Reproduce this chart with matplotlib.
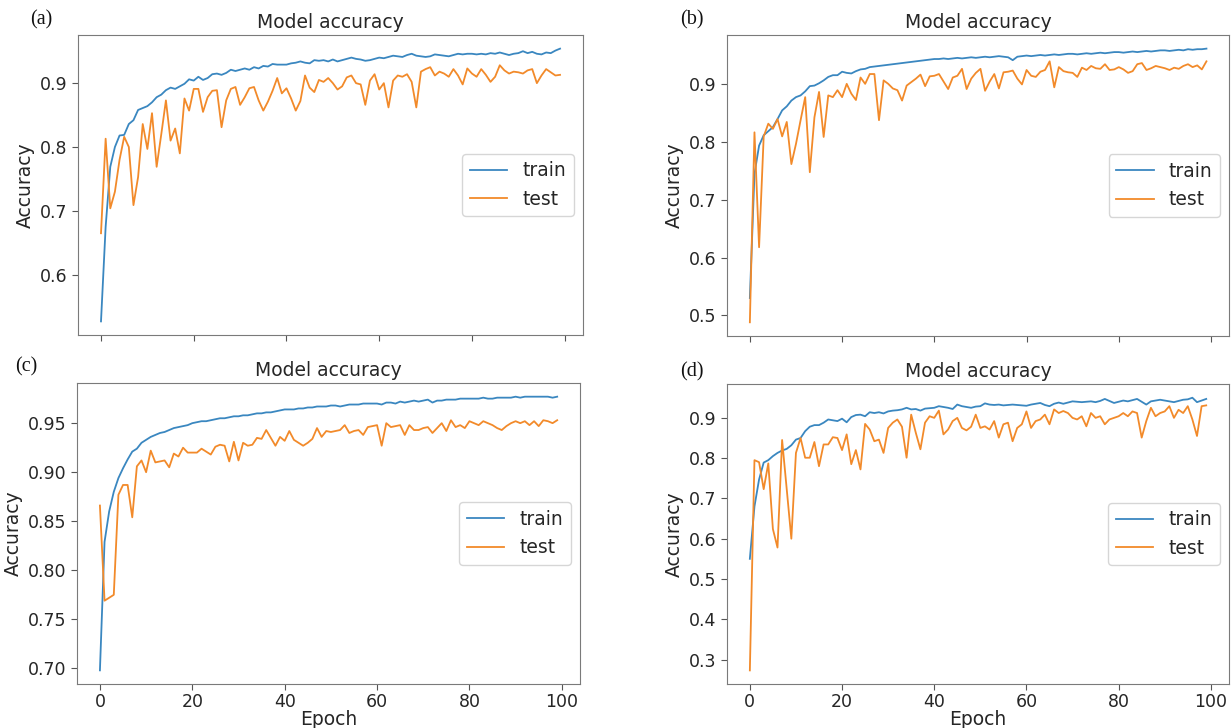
import matplotlib
matplotlib.use('Agg')
import matplotlib.pyplot as plt
import numpy as np

epochs = np.arange(100)

train_a = [0.527, 0.675, 0.769, 0.800, 0.818, 0.819, 0.836, 0.842, 0.858, 0.861,
           0.864, 0.870, 0.878, 0.882, 0.889, 0.893, 0.891, 0.895, 0.899, 0.906,
           0.904, 0.910, 0.905, 0.908, 0.914, 0.915, 0.913, 0.916, 0.921, 0.919,
           0.921, 0.923, 0.921, 0.925, 0.923, 0.927, 0.926, 0.930, 0.929, 0.929,
           0.929, 0.931, 0.932, 0.934, 0.932, 0.931, 0.936, 0.935, 0.936, 0.934,
           0.937, 0.934, 0.936, 0.938, 0.940, 0.938, 0.937, 0.935, 0.936, 0.938,
           0.940, 0.939, 0.941, 0.943, 0.942, 0.941, 0.944, 0.946, 0.943, 0.942,
           0.941, 0.942, 0.945, 0.944, 0.943, 0.942, 0.944, 0.946, 0.945, 0.946,
           0.946, 0.945, 0.946, 0.945, 0.947, 0.946, 0.948, 0.946, 0.944, 0.946,
           0.947, 0.950, 0.947, 0.949, 0.946, 0.945, 0.948, 0.947, 0.951, 0.954]
test_a = [0.665, 0.813, 0.704, 0.730, 0.780, 0.816, 0.800, 0.709, 0.753, 0.836,
          0.797, 0.853, 0.769, 0.820, 0.873, 0.810, 0.829, 0.790, 0.876, 0.857,
          0.891, 0.891, 0.855, 0.878, 0.888, 0.889, 0.831, 0.873, 0.891, 0.894,
          0.866, 0.878, 0.892, 0.894, 0.873, 0.857, 0.871, 0.888, 0.908, 0.884,
          0.892, 0.876, 0.857, 0.872, 0.912, 0.893, 0.886, 0.905, 0.902, 0.908,
          0.900, 0.890, 0.895, 0.909, 0.912, 0.900, 0.898, 0.866, 0.904, 0.914,
          0.890, 0.900, 0.862, 0.904, 0.912, 0.910, 0.914, 0.902, 0.862, 0.918,
          0.922, 0.925, 0.912, 0.918, 0.915, 0.910, 0.922, 0.912, 0.898, 0.923,
          0.915, 0.910, 0.922, 0.913, 0.902, 0.910, 0.928, 0.920, 0.915, 0.918,
          0.917, 0.915, 0.920, 0.922, 0.900, 0.912, 0.922, 0.917, 0.912, 0.913]

train_b = [0.530, 0.745, 0.794, 0.812, 0.819, 0.826, 0.840, 0.855, 0.862, 0.872,
           0.878, 0.881, 0.888, 0.897, 0.898, 0.902, 0.907, 0.913, 0.916, 0.916,
           0.922, 0.920, 0.919, 0.923, 0.926, 0.927, 0.930, 0.931, 0.932, 0.933,
           0.934, 0.935, 0.936, 0.937, 0.938, 0.939, 0.940, 0.941, 0.942, 0.943,
           0.944, 0.944, 0.945, 0.944, 0.945, 0.946, 0.945, 0.946, 0.947, 0.946,
           0.947, 0.948, 0.947, 0.948, 0.949, 0.948, 0.947, 0.942, 0.948, 0.949,
           0.950, 0.949, 0.950, 0.951, 0.950, 0.951, 0.952, 0.951, 0.952, 0.953,
           0.953, 0.952, 0.953, 0.954, 0.953, 0.954, 0.955, 0.954, 0.955, 0.956,
           0.956, 0.955, 0.956, 0.957, 0.956, 0.957, 0.958, 0.957, 0.958, 0.959,
           0.959, 0.958, 0.959, 0.960, 0.959, 0.961, 0.960, 0.961, 0.961, 0.962]
test_b = [0.488, 0.817, 0.618, 0.810, 0.832, 0.823, 0.840, 0.810, 0.835, 0.762,
          0.797, 0.838, 0.878, 0.748, 0.843, 0.887, 0.809, 0.881, 0.878, 0.890,
          0.878, 0.901, 0.884, 0.873, 0.912, 0.901, 0.918, 0.918, 0.838, 0.907,
          0.901, 0.893, 0.890, 0.872, 0.898, 0.904, 0.910, 0.917, 0.897, 0.914,
          0.915, 0.918, 0.905, 0.892, 0.912, 0.915, 0.927, 0.892, 0.910, 0.920,
          0.927, 0.889, 0.905, 0.918, 0.893, 0.921, 0.922, 0.924, 0.910, 0.900,
          0.925, 0.915, 0.913, 0.922, 0.925, 0.940, 0.895, 0.930, 0.923, 0.921,
          0.920, 0.913, 0.929, 0.925, 0.932, 0.928, 0.927, 0.935, 0.925, 0.926,
          0.930, 0.926, 0.920, 0.923, 0.935, 0.937, 0.925, 0.928, 0.932, 0.930,
          0.928, 0.925, 0.929, 0.927, 0.932, 0.935, 0.930, 0.933, 0.926, 0.940]

train_c = [0.698, 0.829, 0.860, 0.880, 0.894, 0.904, 0.913, 0.921, 0.924, 0.930,
           0.933, 0.936, 0.938, 0.940, 0.941, 0.943, 0.945, 0.946, 0.947, 0.948,
           0.950, 0.951, 0.952, 0.952, 0.953, 0.954, 0.955, 0.955, 0.956, 0.957,
           0.957, 0.958, 0.958, 0.959, 0.960, 0.960, 0.961, 0.961, 0.962, 0.963,
           0.964, 0.964, 0.964, 0.965, 0.965, 0.966, 0.966, 0.967, 0.967, 0.967,
           0.968, 0.968, 0.967, 0.968, 0.969, 0.969, 0.969, 0.970, 0.970, 0.970,
           0.970, 0.969, 0.971, 0.971, 0.970, 0.972, 0.971, 0.972, 0.973, 0.972,
           0.973, 0.974, 0.971, 0.973, 0.973, 0.974, 0.974, 0.974, 0.975, 0.975,
           0.975, 0.975, 0.975, 0.976, 0.975, 0.975, 0.976, 0.976, 0.976, 0.976,
           0.977, 0.976, 0.977, 0.977, 0.977, 0.977, 0.977, 0.977, 0.976, 0.977]
test_c = [0.866, 0.769, 0.772, 0.775, 0.877, 0.887, 0.887, 0.854, 0.906, 0.912,
          0.900, 0.922, 0.910, 0.911, 0.912, 0.905, 0.919, 0.916, 0.925, 0.920,
          0.920, 0.920, 0.924, 0.921, 0.918, 0.926, 0.928, 0.927, 0.911, 0.931,
          0.912, 0.930, 0.927, 0.928, 0.935, 0.934, 0.943, 0.935, 0.927, 0.936,
          0.932, 0.942, 0.933, 0.930, 0.927, 0.930, 0.934, 0.945, 0.936, 0.942,
          0.941, 0.942, 0.943, 0.948, 0.940, 0.942, 0.943, 0.938, 0.946, 0.947,
          0.948, 0.927, 0.950, 0.946, 0.947, 0.948, 0.938, 0.948, 0.943, 0.943,
          0.945, 0.946, 0.940, 0.945, 0.950, 0.942, 0.953, 0.946, 0.948, 0.945,
          0.952, 0.950, 0.948, 0.952, 0.950, 0.948, 0.945, 0.943, 0.947, 0.950,
          0.952, 0.950, 0.952, 0.948, 0.952, 0.947, 0.953, 0.952, 0.950, 0.953]

train_d = [0.550, 0.680, 0.747, 0.789, 0.795, 0.805, 0.813, 0.819, 0.823, 0.832,
           0.846, 0.850, 0.867, 0.878, 0.882, 0.882, 0.888, 0.896, 0.894, 0.892,
           0.898, 0.889, 0.902, 0.907, 0.908, 0.904, 0.914, 0.912, 0.914, 0.911,
           0.916, 0.918, 0.919, 0.921, 0.925, 0.921, 0.922, 0.918, 0.923, 0.924,
           0.925, 0.929, 0.927, 0.925, 0.922, 0.933, 0.929, 0.927, 0.925, 0.928,
           0.929, 0.936, 0.933, 0.932, 0.933, 0.931, 0.932, 0.933, 0.932, 0.931,
           0.930, 0.933, 0.935, 0.937, 0.932, 0.929, 0.935, 0.938, 0.935, 0.938,
           0.941, 0.940, 0.939, 0.940, 0.941, 0.939, 0.942, 0.947, 0.942, 0.937,
           0.940, 0.943, 0.941, 0.944, 0.947, 0.940, 0.933, 0.941, 0.943, 0.945,
           0.943, 0.941, 0.939, 0.942, 0.945, 0.946, 0.950, 0.939, 0.943, 0.947]
test_d = [0.273, 0.795, 0.790, 0.723, 0.787, 0.624, 0.578, 0.845, 0.723, 0.600,
          0.813, 0.850, 0.801, 0.801, 0.840, 0.780, 0.834, 0.834, 0.852, 0.850,
          0.820, 0.859, 0.785, 0.820, 0.772, 0.885, 0.871, 0.842, 0.846, 0.813,
          0.875, 0.888, 0.896, 0.878, 0.801, 0.908, 0.863, 0.822, 0.888, 0.904,
          0.900, 0.918, 0.859, 0.871, 0.892, 0.900, 0.875, 0.869, 0.878, 0.908,
          0.875, 0.879, 0.871, 0.892, 0.851, 0.884, 0.888, 0.842, 0.875, 0.884,
          0.916, 0.875, 0.892, 0.896, 0.908, 0.884, 0.921, 0.912, 0.917, 0.912,
          0.900, 0.896, 0.904, 0.879, 0.912, 0.900, 0.904, 0.884, 0.896, 0.900,
          0.904, 0.912, 0.904, 0.916, 0.912, 0.851, 0.892, 0.925, 0.904, 0.912,
          0.916, 0.929, 0.900, 0.920, 0.912, 0.929, 0.896, 0.855, 0.929, 0.931]

panels = [
    ('(a)', train_a, test_a, [0.0634, 0.5398, 0.4102, 0.4121], (30, 20), False),
    ('(b)', train_b, test_b, [0.5906, 0.5385, 0.4080, 0.4135], (680, 20), False),
    ('(c)', train_c, test_c, [0.0626, 0.0604, 0.4086, 0.4135], (15, 367), True),
    ('(d)', train_d, test_d, [0.5906, 0.0604, 0.4078, 0.4120], (680, 372), True),
]

W, H = 1231, 728
fig = plt.figure(figsize=(W / 100, H / 100), dpi=100)
text_col = '#262626'

for letter, train, test, pos, lpos, show_x in panels:
    ax = fig.add_axes(pos)
    ax.plot(epochs, train, color='#3a87c0', lw=1.3, label='train')
    ax.plot(epochs, test, color='#f28a2a', lw=1.3, label='test')
    ax.set_title('Model accuracy', fontsize=13.5, color=text_col, pad=5)
    ax.set_ylabel('Accuracy', fontsize=13.5, color=text_col)
    ax.set_xticks([0, 20, 40, 60, 80, 100])
    if show_x:
        ax.set_xlabel('Epoch', fontsize=13.5, color=text_col, labelpad=-1)
    else:
        ax.tick_params(axis='x', labelbottom=False)
    ax.tick_params(labelsize=12.5, colors='#555555', labelcolor=text_col, length=4)
    ax.tick_params(axis='x', pad=2.5)
    for sp in ax.spines.values():
        sp.set_color('#7a7a7a')
    leg = ax.legend(loc='center right', fontsize=13.5, frameon=True)
    for t in leg.get_texts():
        t.set_color(text_col)
    fig.text(lpos[0] / W, 1 - lpos[1] / H, letter, fontsize=14.5,
             family='Liberation Serif', ha='left', va='center', color='#111111')

fig.savefig('out.png', dpi=100)
